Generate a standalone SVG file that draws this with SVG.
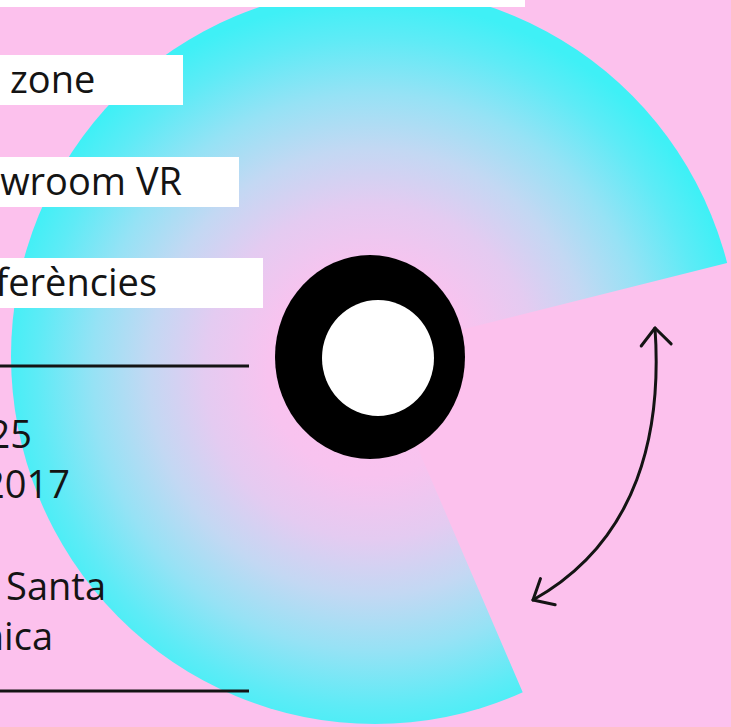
<svg xmlns="http://www.w3.org/2000/svg" width="731" height="727" viewBox="0 0 731 727">
  <style>
    .lbl { font-family: "Open Sans", "Liberation Sans", sans-serif; font-size: 38px; fill: #141414; }
    .box { fill: #ffffff; }
    .rule { stroke: #141414; stroke-width: 3; }
    .arrow { fill: none; stroke: #141414; stroke-width: 3; stroke-linecap: round; }
  </style>
  <defs>
    <radialGradient id="discGrad" gradientUnits="userSpaceOnUse" cx="372" cy="372" r="372">
      <stop offset="0" stop-color="#fcc2ee"/>
      <stop offset="0.28" stop-color="#f8c3ef"/>
      <stop offset="0.45" stop-color="#e4cbf1"/>
      <stop offset="0.6" stop-color="#c3d8f3"/>
      <stop offset="0.75" stop-color="#96e2f5"/>
      <stop offset="0.9" stop-color="#5eebf6"/>
      <stop offset="1" stop-color="#3ff0f6"/>
    </radialGradient>
    <clipPath id="wedgeCut">
      <polygon points="376,351 800,244.7 800,-50 -50,-50 -50,800 569,800"/>
    </clipPath>
    <marker id="chev" viewBox="-20 -18 24 36" markerWidth="24" markerHeight="36" refX="0" refY="0" orient="auto-start-reverse" markerUnits="userSpaceOnUse">
      <path d="M -17 -15 L 0 0 L -17 15" fill="none" stroke="#141414" stroke-width="3" stroke-linecap="round" stroke-linejoin="round"/>
    </marker>
  </defs>

  <rect width="731" height="727" fill="#fcc1ed"/>

  <g id="disc">
    <ellipse cx="375" cy="356" rx="364" ry="368" fill="url(#discGrad)" clip-path="url(#wedgeCut)"/>
  </g>

  <g id="topbar">
    <rect class="box" x="0" y="0" width="525" height="7"/>
  </g>

  <g id="ring">
    <ellipse cx="370" cy="357" rx="95" ry="102" fill="#000000"/>
    <ellipse cx="378" cy="358" rx="56" ry="58" fill="#ffffff"/>
  </g>

  <g id="label-zone">
    <rect class="box" x="0" y="55" width="183" height="50"/>
    <text class="lbl" x="10" y="93">zone</text>
  </g>
  <g id="label-showroom">
    <rect class="box" x="0" y="157" width="239" height="50"/>
    <text class="lbl" x="182" y="195" text-anchor="end">wroom VR</text>
  </g>
  <g id="label-conferencies">
    <rect class="box" x="0" y="258" width="263" height="50"/>
    <text class="lbl" x="157" y="296" text-anchor="end">ferències</text>
  </g>

  <g id="rules">
    <line class="rule" x1="0" y1="366" x2="249" y2="366"/>
    <line class="rule" x1="0" y1="691" x2="249" y2="691"/>
  </g>

  <g id="dates">
    <text class="lbl" x="32" y="448" text-anchor="end">25</text>
    <text class="lbl" x="70" y="498" text-anchor="end">2017</text>
  </g>

  <g id="venue">
    <text class="lbl" x="106" y="600" text-anchor="end">Santa</text>
    <text class="lbl" x="53" y="650" text-anchor="end">nica</text>
  </g>

  <g id="connectors">
    <path class="arrow" d="M 655 328 C 662 430 640 540 533 600" marker-start="url(#chev)" marker-end="url(#chev)"/>
  </g>
</svg>
